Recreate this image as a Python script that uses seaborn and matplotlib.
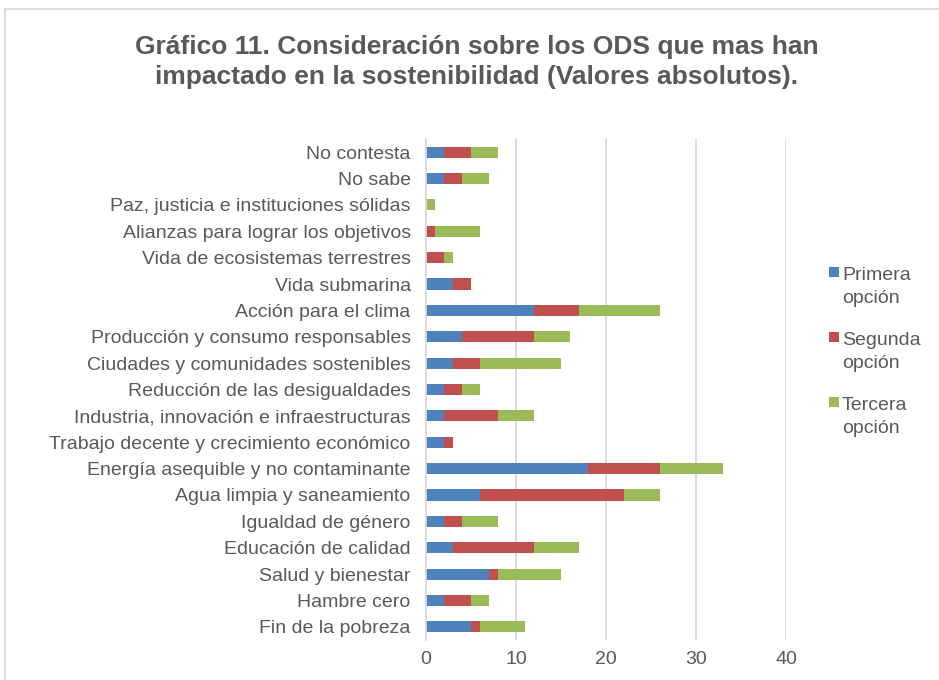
import matplotlib
matplotlib.use("Agg")
import matplotlib.pyplot as plt
from matplotlib.patches import Rectangle, Patch
from matplotlib.legend_handler import HandlerPatch
import seaborn as sns
import pandas as pd
import numpy as np

categorias = ["No contesta", "No sabe", "Paz, justicia e instituciones sólidas",
              "Alianzas para lograr los objetivos", "Vida de ecosistemas terrestres",
              "Vida submarina", "Acción para el clima", "Producción y consumo responsables",
              "Ciudades y comunidades sostenibles", "Reducción de las desigualdades",
              "Industria, innovación e infraestructuras",
              "Trabajo decente y crecimiento económico",
              "Energía asequible y no contaminante", "Agua limpia y saneamiento",
              "Igualdad de género", "Educación de calidad", "Salud y bienestar",
              "Hambre cero", "Fin de la pobreza"]
primera = [2, 2, 0, 0, 0, 3, 12, 4, 3, 2, 2, 2, 18, 6, 2, 3, 7, 2, 5]
segunda = [3, 2, 0, 1, 2, 2, 5, 8, 3, 2, 6, 1, 8, 16, 2, 9, 1, 3, 1]
tercera = [3, 3, 1, 5, 1, 0, 9, 4, 9, 2, 4, 0, 7, 4, 4, 5, 7, 2, 5]
series = ["Primera\nopción", "Segunda\nopción", "Tercera\nopción"]
colores = ["#4F81BD", "#C0504D", "#9BBB59"]
x_ticks = [0, 10, 20, 30, 40]

sns.set_theme(style="white")
plt.rcParams["font.family"] = ["Liberation Sans", "DejaVu Sans"]
TXT = "#595959"
FS = 14

df = pd.DataFrame({"cat": categorias, "p": primera, "s": segunda, "t": tercera})
df["c1"] = df["p"]
df["c2"] = df["p"] + df["s"]
df["c3"] = df["p"] + df["s"] + df["t"]

fig = plt.figure(figsize=(9.39, 6.8), dpi=100)
ax = fig.add_axes([426/939, 1-640/680, 360/939, 501/680])

bw = 0.42
for col, colr in zip(["c3", "c2", "c1"], colores[::-1]):
    sns.barplot(data=df, x=col, y="cat", order=categorias, color=colr,
                width=bw, saturation=1, ax=ax, linewidth=0, orient="h")

ax.set_xlim(0, 40)
ax.set_xticks(x_ticks)
ax.set_xlabel("")
ax.set_ylabel("")
ax.grid(axis="x", color="#D9D9D9", linewidth=1.3)
ax.set_axisbelow(True)
for s in ["top", "right", "bottom"]:
    ax.spines[s].set_visible(False)
ax.spines["left"].set_color("#D9D9D9")
ax.spines["left"].set_linewidth(1.3)
ax.tick_params(axis="y", length=0, pad=11, labelsize=FS, labelcolor=TXT)
ax.tick_params(axis="x", length=0, pad=8, labelsize=FS, labelcolor=TXT)

fig.text(0.508, 1-62/680,
         "Gráfico 11. Consideración sobre los ODS que mas han\nimpactado en la sostenibilidad (Valores absolutos).",
         ha="center", va="center", fontsize=19, fontweight="bold", color=TXT,
         linespacing=1.3)

class UpPatch(HandlerPatch):
    def create_artists(self, legend, orig_handle, xdescent, ydescent, width, height, fontsize, trans):
        s = 7.2
        r = Rectangle((-xdescent + (width - s), -ydescent + height * 0.5 + fontsize * 0.75 - s / 2),
                      s, s, facecolor=orig_handle.get_facecolor(), edgecolor="none",
                      transform=trans)
        return [r]

handles = [Patch(facecolor=c, edgecolor="none") for c in colores]
leg = fig.legend(handles, series, loc="center left", bbox_to_anchor=(811/939, 1-352/680),
                 frameon=False, fontsize=FS, labelcolor=TXT, handlelength=0.55,
                 handletextpad=0.15, labelspacing=1.3,
                 handler_map={Patch: UpPatch()})
for t in leg.get_texts():
    t.set_linespacing(1.45)

fig.patches.append(Rectangle((5/939, -0.5), 2.0, 1.5 - 9/680, transform=fig.transFigure,
                             fill=False, edgecolor="#D9D9D9", linewidth=1.3))

fig.savefig("out.png", dpi=100)
